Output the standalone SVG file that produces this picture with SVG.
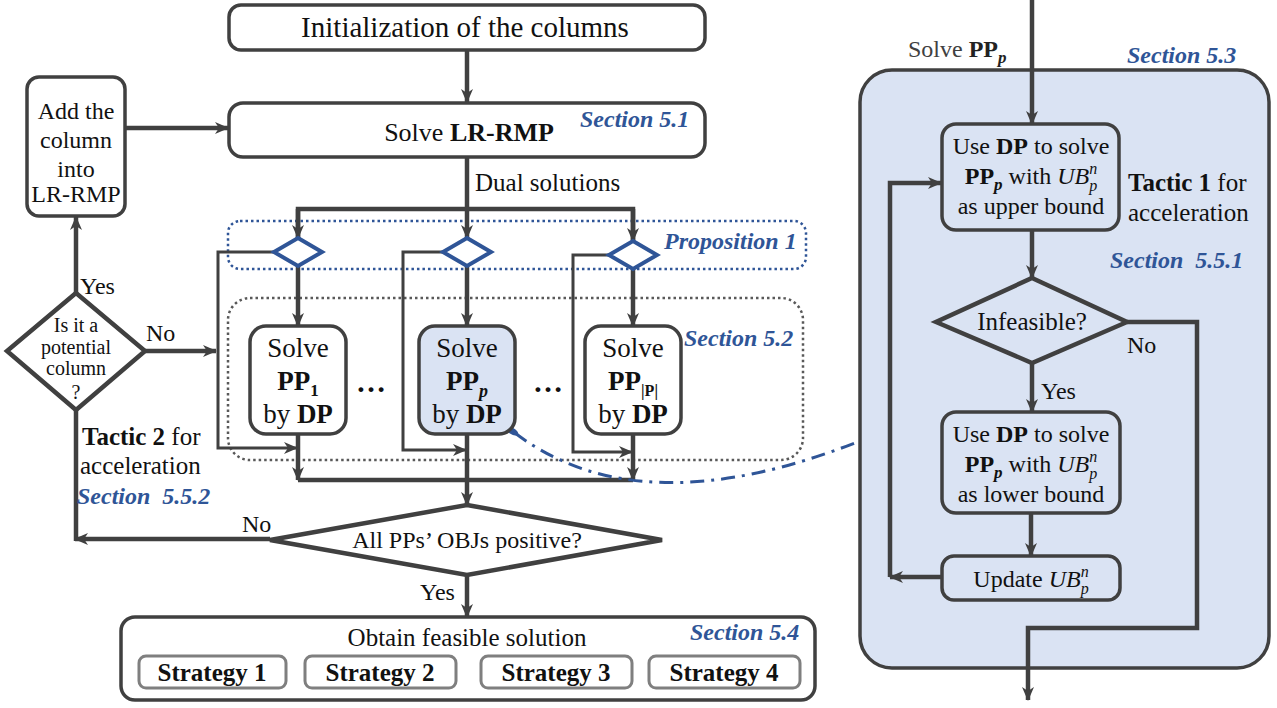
<svg xmlns="http://www.w3.org/2000/svg" width="1277" height="708" viewBox="0 0 1277 708" font-family="'Liberation Serif', 'DejaVu Serif', serif">
<defs>
<style>
text{font-family:"Liberation Serif","DejaVu Serif",serif;fill:#111;}
.box{fill:#fff;stroke:#404040;stroke-width:3.5;}
.blue{fill:#dae3f3;stroke:#404040;stroke-width:3.5;}
.strat{fill:#fff;stroke:#7f7f7f;stroke-width:3;}
.dia{fill:#fff;stroke:#404040;stroke-width:4.5;}
.pdia{fill:#fff;stroke:#2f5597;stroke-width:4;}
.ln{fill:none;stroke:#404040;stroke-width:4.5;}
.lt{fill:none;stroke:#404040;stroke-width:3;}
.sec{fill:#2f5597;font-style:italic;font-weight:bold;font-size:24px;}
.b{font-weight:bold;}
.i{font-style:italic;}
.m{text-anchor:middle;}
</style>
<marker id="ah" viewBox="0 0 14 12" refX="13" refY="6" markerWidth="14" markerHeight="12" markerUnits="userSpaceOnUse" orient="auto">
<path d="M0,0 L14,6 L0,12 L4,6 z" fill="#404040"/>
</marker>
</defs>
<rect width="1277" height="708" fill="#fff"/>

<g id="panel">
<rect x="860" y="70" width="409" height="598" rx="32" class="blue"/>
<text x="908" y="57" font-size="24" style="fill:#404040">Solve <tspan class="b" style="fill:#222">PP</tspan><tspan class="b i" font-size="17" dy="6" style="fill:#222">p</tspan></text>
<text x="1127" y="63" class="sec">Section 5.3</text>
<text x="1128" y="191" font-size="25"><tspan class="b">Tactic 1</tspan> for</text>
<text x="1128" y="221" font-size="25">acceleration</text>
<text x="1110" y="268" class="sec" xml:space="preserve">Section  5.5.1</text>
</g>

<g id="groups">
<rect x="228" y="221" width="578" height="48" rx="12" fill="none" stroke="#2f5597" stroke-width="2.5" stroke-dasharray="2.5 3"/>
<text x="664" y="249" class="sec">Proposition 1</text>
<rect x="228" y="298" width="575" height="162" rx="22" fill="none" stroke="#595959" stroke-width="2.5" stroke-dasharray="2.5 3"/>
<text x="684" y="346" class="sec">Section 5.2</text>
</g>

<g id="connectors">
<line x1="467" y1="50" x2="467" y2="102" class="ln" marker-end="url(#ah)"/>
<path d="M124,128 H228" class="ln" marker-end="url(#ah)"/>
<path d="M76,293 V217" class="ln" marker-end="url(#ah)"/>
<path d="M145,351 H216" class="ln" marker-end="url(#ah)"/>
<path d="M467,157 V209" class="ln"/>
<path d="M298,238 V209 H633 V240" class="ln"/>
<path d="M298,209 V238" class="ln" marker-end="url(#ah)"/>
<path d="M467,209 V238" class="ln" marker-end="url(#ah)"/>
<path d="M633,209 V241" class="ln" marker-end="url(#ah)"/>
<path d="M298,266 V326" class="ln" marker-end="url(#ah)"/>
<path d="M467,266 V326" class="ln" marker-end="url(#ah)"/>
<path d="M633,269 V326" class="ln" marker-end="url(#ah)"/>
<path d="M274,252 H218 V448 H297" class="lt" marker-end="url(#ah)"/>
<path d="M443,252 H403 V450 H466" class="lt" marker-end="url(#ah)"/>
<path d="M609,255 H573 V452 H632" class="lt" marker-end="url(#ah)"/>
<path d="M298,434 V480" class="ln" marker-end="url(#ah)"/>
<path d="M633,434 V480" class="ln" marker-end="url(#ah)"/>
<path d="M298,480 H633" class="ln"/>
<path d="M467,434 V505" class="ln" marker-end="url(#ah)"/>
<path d="M76,410 V541" class="ln"/>
<path d="M270,539 H75" class="ln" marker-end="url(#ah)"/>
<path d="M467,575 V617" class="ln" marker-end="url(#ah)"/>
<path d="M1032,0 V124" class="ln" marker-end="url(#ah)"/>
<path d="M1032,230 V278" class="ln" marker-end="url(#ah)"/>
<path d="M1032,363 V412" class="ln" marker-end="url(#ah)"/>
<path d="M1031,513 V556" class="ln" marker-end="url(#ah)"/>
<path d="M942,577 H890" class="ln" marker-end="url(#ah)"/>
<path d="M890,577 V183 H941" class="ln" marker-end="url(#ah)"/>
<path d="M1127,322 H1197 V628 H1028 V700" class="ln" marker-end="url(#ah)"/>
<path d="M515,433 Q640,528 860,441" fill="none" stroke="#2f5597" stroke-width="3" stroke-dasharray="14 7 3 7"/>
<ellipse cx="512" cy="431" rx="7" ry="3.2" fill="#2f5597" transform="rotate(30 512 431)"/>
</g>

<g id="init">
<rect x="229" y="5" width="476" height="45" rx="12" class="box"/>
<text x="465" y="37" class="m" font-size="29">Initialization of the columns</text>
</g>

<g id="lrrmp">
<rect x="229" y="103" width="476" height="54" rx="14" class="box"/>
<text x="469" y="141" class="m" font-size="26">Solve <tspan class="b">LR-RMP</tspan></text>
<text x="580" y="127" class="sec">Section 5.1</text>
<text x="475" y="191" font-size="25">Dual solutions</text>
</g>

<g id="addcol">
<rect x="27" y="77" width="98" height="139" rx="12" class="box"/>
<text x="76" y="119" class="m" font-size="24">Add the</text>
<text x="76" y="148" class="m" font-size="24">column</text>
<text x="76" y="177" class="m" font-size="24">into</text>
<text x="76" y="202" class="m" font-size="24">LR-RMP</text>
</g>

<g id="potential">
<polygon points="76,293 145,351 76,410 7,351" class="dia"/>
<text x="76" y="332" class="m" font-size="20">Is it a</text>
<text x="76" y="354" class="m" font-size="20">potential</text>
<text x="76" y="375" class="m" font-size="20">column</text>
<text x="76" y="399" class="m" font-size="20">?</text>
<text x="80" y="294" font-size="24">Yes</text>
<text x="146" y="341" font-size="24">No</text>
<text x="82" y="445" font-size="25"><tspan class="b">Tactic 2</tspan> for</text>
<text x="80" y="474" font-size="25">acceleration</text>
<text x="77" y="504" class="sec" xml:space="preserve">Section  5.5.2</text>
</g>

<g id="prop-diamonds">
<polygon points="298,238 322,252 298,266 274,252" class="pdia"/>
<polygon points="467,238 491,252 467,266 443,252" class="pdia"/>
<polygon points="633,241 657,255 633,269 609,255" class="pdia"/>
</g>

<g id="pp1">
<rect x="250" y="326" width="96" height="108" rx="16" class="box"/>
<text x="298" y="357" class="m" font-size="27">Solve</text>
<text x="298" y="390" class="m b" font-size="27">PP<tspan font-size="17" dy="6">1</tspan></text>
<text x="298" y="423" class="m" font-size="27">by <tspan class="b">DP</tspan></text>
</g>
<g id="ppp">
<rect x="419" y="326" width="96" height="108" rx="16" class="blue"/>
<text x="467" y="357" class="m" font-size="27">Solve</text>
<text x="467" y="390" class="m b" font-size="27">PP<tspan class="i" font-size="18" dy="7">p</tspan></text>
<text x="467" y="423" class="m" font-size="27">by <tspan class="b">DP</tspan></text>
</g>
<g id="ppP">
<rect x="585" y="326" width="96" height="108" rx="16" class="box"/>
<text x="633" y="357" class="m" font-size="27">Solve</text>
<text x="633" y="390" class="m b" font-size="27">PP<tspan font-size="16" dy="6">|P|</tspan></text>
<text x="633" y="423" class="m" font-size="27">by <tspan class="b">DP</tspan></text>
</g>
<g id="dots">
<text x="371" y="392" class="m b" font-size="30">…</text>
<text x="548" y="392" class="m b" font-size="30">…</text>
</g>

<g id="allpps">
<polygon points="467,505 662,540 467,575 270,540" class="dia"/>
<text x="467" y="548" class="m" font-size="24">All PPs’ OBJs positive?</text>
<text x="242" y="532" font-size="24">No</text>
<text x="420" y="600" font-size="24">Yes</text>
</g>

<g id="feasible">
<rect x="121" y="617" width="694" height="83" rx="14" class="box"/>
<text x="467" y="646" class="m" font-size="25">Obtain feasible solution</text>
<text x="690" y="640" class="sec">Section 5.4</text>
<rect x="139" y="656" width="147" height="32" rx="7" class="strat"/>
<text x="212" y="681" class="m b" font-size="25">Strategy 1</text>
<rect x="305" y="656" width="151" height="32" rx="7" class="strat"/>
<text x="380" y="681" class="m b" font-size="25">Strategy 2</text>
<rect x="481" y="656" width="151" height="32" rx="7" class="strat"/>
<text x="556" y="681" class="m b" font-size="25">Strategy 3</text>
<rect x="649" y="656" width="151" height="32" rx="7" class="strat"/>
<text x="724" y="681" class="m b" font-size="25">Strategy 4</text>
</g>

<g id="upper">
<rect x="942" y="124" width="177" height="106" rx="14" class="blue"/>
<text x="1031" y="154" class="m" font-size="24">Use <tspan class="b">DP</tspan> to solve</text>
<text x="1031" y="184" class="m" font-size="24"><tspan class="b">PP</tspan><tspan class="b i" font-size="17" dy="6">p</tspan><tspan dy="-6"> with </tspan><tspan class="i">UB</tspan><tspan class="i" font-size="16" dy="7">p</tspan><tspan class="i" font-size="16" dx="-8" dy="-17">n</tspan></text>
<text x="1031" y="214" class="m" font-size="24">as upper bound</text>
</g>

<g id="infeasible">
<polygon points="1032,278 1127,322 1032,363 936,322" class="dia" style="fill:#dae3f3"/>
<text x="1032" y="330" class="m" font-size="25">Infeasible?</text>
<text x="1127" y="353" font-size="24">No</text>
<text x="1041" y="399" font-size="24">Yes</text>
</g>

<g id="lower">
<rect x="942" y="412" width="178" height="101" rx="14" class="blue"/>
<text x="1031" y="442" class="m" font-size="24">Use <tspan class="b">DP</tspan> to solve</text>
<text x="1031" y="472" class="m" font-size="24"><tspan class="b">PP</tspan><tspan class="b i" font-size="17" dy="6">p</tspan><tspan dy="-6"> with </tspan><tspan class="i">UB</tspan><tspan class="i" font-size="16" dy="7">p</tspan><tspan class="i" font-size="16" dx="-8" dy="-17">n</tspan></text>
<text x="1031" y="502" class="m" font-size="24">as lower bound</text>
</g>

<g id="update">
<rect x="942" y="556" width="178" height="44" rx="12" class="blue"/>
<text x="1031" y="587" class="m" font-size="24">Update <tspan class="i">UB</tspan><tspan class="i" font-size="16" dy="7">p</tspan><tspan class="i" font-size="16" dx="-8" dy="-17">n</tspan></text>
</g>
</svg>
